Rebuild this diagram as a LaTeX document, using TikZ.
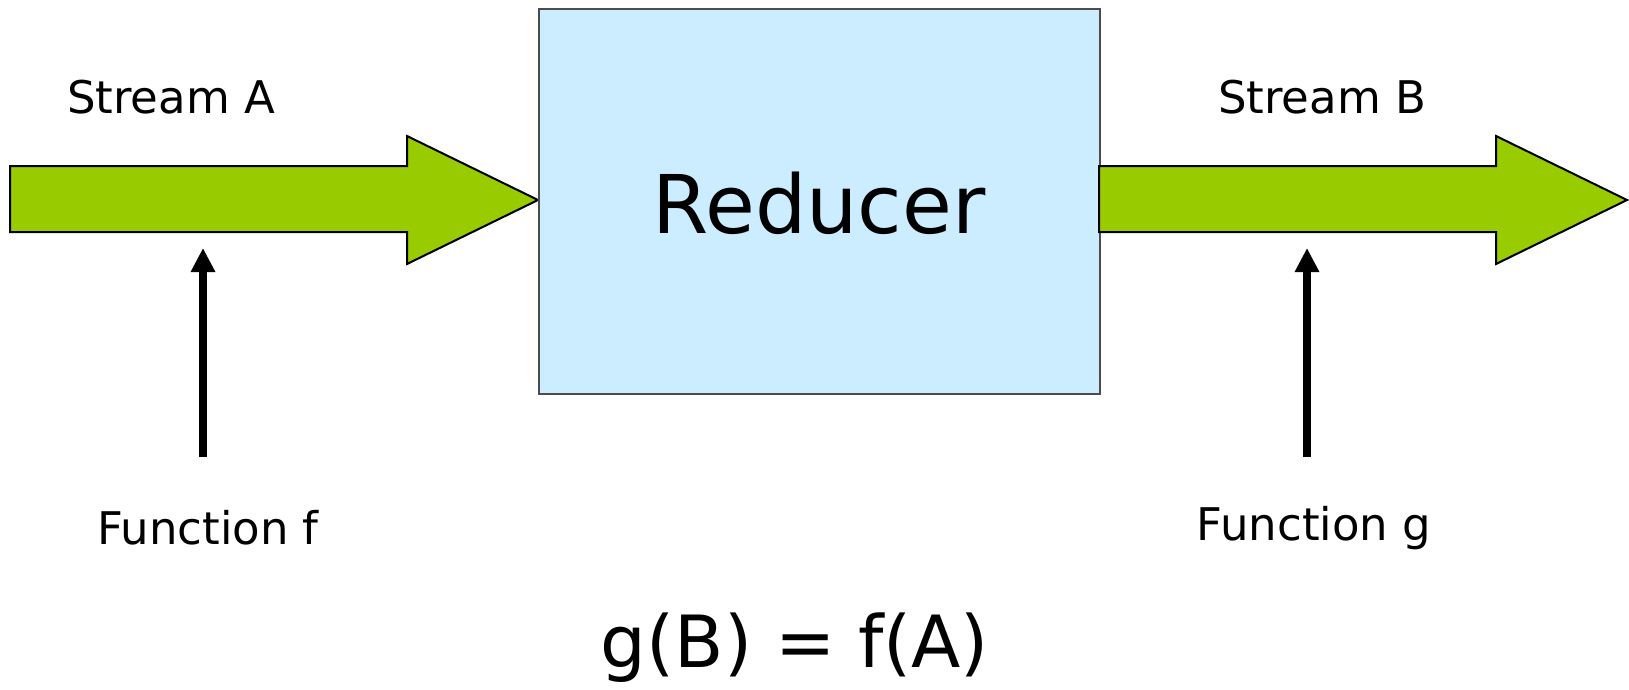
\documentclass[tikz,border=0pt]{standalone}
\usepackage{fontspec}
\setmainfont{DejaVu Sans}
\usetikzlibrary{arrows.meta}
\definecolor{streamgreen}{HTML}{99CC00}
\definecolor{boxblue}{HTML}{CCECFF}
\tikzset{
  streamarrow/.style={fill=streamgreen,draw=black,line width=2pt,line join=miter},
  redbox/.style={fill=boxblue,draw=black!70,line width=2pt},
  label/.style={inner sep=0pt,font=\fontsize{45}{54}\selectfont},
  fnarrow/.style={line width=8pt,-{Triangle[width=23pt,length=24pt]}},
}
\begin{document}
\begin{tikzpicture}[x=1pt,y=-1pt]
\useasboundingbox (0,0) rectangle (1629,690);
% left stream arrow
\draw[streamarrow] (10,166) -- (407,166) -- (407,136) -- (538,200) -- (407,264) -- (407,232) -- (10,232) -- cycle;
% reducer box
\node[redbox,minimum width=561pt,minimum height=385pt,anchor=north west,inner sep=0pt] (red) at (538,8) {};
\node[inner sep=0pt,font=\fontsize{81}{92}\selectfont] (redtext) at (819,203) {Reducer};
% right stream arrow
\draw[streamarrow] (1099,166) -- (1496,166) -- (1496,136) -- (1627,200) -- (1496,264) -- (1496,232) -- (1099,232) -- cycle;
% labels
\node[label] (sa) at (171,97) {Stream A};
\node[label] (sb) at (1322,97) {Stream B};
\node[label] (ff) at (208,528) {Function f};
\node[label] (fg) at (1314,528) {Function g};
\node[inner sep=0pt,font=\fontsize{72}{82}\selectfont] (eq) at (795,648) {g(B) = f(A)};
% function arrows
\coordinate (fa0) at (203,457);
\coordinate (fa1) at (203,248);
\coordinate (ga0) at (1307,457);
\coordinate (ga1) at (1307,248);
\draw[fnarrow] (fa0) -- (fa1);
\draw[fnarrow] (ga0) -- (ga1);
\end{tikzpicture}
\end{document}
